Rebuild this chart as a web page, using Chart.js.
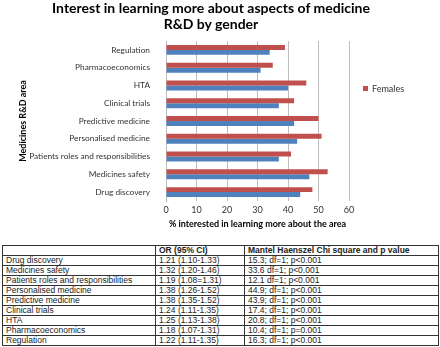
<!DOCTYPE html>
<html>
<head>
<meta charset="utf-8">
<script src="https://cdn.jsdelivr.net/npm/chart.js@4"></script>
<style>
  html, body { margin: 0; padding: 0; background: #fff; }
  #wrap { position: relative; width: 440px; height: 347px; overflow: hidden; }
  #chart-box { position: absolute; left: 0; top: 0; width: 440px; height: 232px; }
  .title { position: absolute; left: 0; top: 0; width: 422px; text-align: center; font: bold 14px Lato, sans-serif; line-height: 16px; color: #000; }
  .legend { position: absolute; left: 363px; top: 83px; font: 9px Lato, sans-serif; color: #333; display: flex; align-items: center; }
  .legend i { display: inline-block; width: 5px; height: 5px; background: #c0504d; margin-right: 4px; }
  table { position: absolute; left: 2px; top: 245px; border-collapse: collapse; font: 8.5px "Liberation Sans", Arial, sans-serif; color: #222; }
  td, th { border: 1px solid #333; padding: 0 3px; height: 9px; line-height: 9px; text-align: left; white-space: nowrap; }
  th { font-weight: bold; }
</style>
</head>
<body>
<div id="wrap">
  <div id="chart-box"><canvas id="chart"></canvas></div>
  <div class="title">Interest in learning more about aspects of medicine<br>R&amp;D by gender</div>
  <div class="legend"><i></i>Females</div>
  <table id="tbl"></table>
</div>
<script>
// chart data (top to bottom as drawn)
const categories = ['Regulation', 'Pharmacoeconomics', 'HTA', 'Clinical trials', 'Predictive medicine',
  'Personalised medicine', 'Patients roles and responsibilities', 'Medicines safety', 'Drug discovery'];
const females = [39, 35, 46, 42, 50, 51, 41, 53, 48];
const males = [34, 31, 40, 37, 42, 43, 37, 47, 44];
const xTicks = [0, 10, 20, 30, 40, 50, 60];

// table data
const tableHeader = ['', 'OR (95% CI)', 'Mantel Haenszel Chi square and p value'];
const tableAreas = ['Drug discovery', 'Medicines safety', 'Patients roles and responsibilities', 'Personalised medicine',
  'Predictive medicine', 'Clinical trials', 'HTA', 'Pharmacoeconomics', 'Regulation'];
const orValues = ['1.21 (1.10-1.33)', '1.32 (1.20-1.46)', '1.19 (1.08=1.31)', '1.38 (1.26-1.52)', '1.38 (1.35-1.52)',
  '1.24 (1.11-1.35)', '1.25 (1.13-1.38)', '1.18 (1.07-1.31)', '1.22 (1.11-1.35)'];
const mhValues = ['15.3; df=1; p<0.001', '33.6 df=1; p<0.001', '12.1 df=1; p<0.001', '44.9; df=1; p<0.001',
  '43.9; df=1; p<0.001', '17.4; df=1; p<0.001', '20.8; df=1; p<0.001', '10.4; df=1; p=0.001', '16.3; df=1; p<0.001'];

const tbl = document.getElementById('tbl');
const colW = ['146px', '82px', '187px'];
let html = '<tr>' + tableHeader.map((h, i) => `<th style="width:${colW[i]}">${h}</th>`).join('') + '</tr>';
tableAreas.forEach((a, i) => {
  html += `<tr><td>${a}</td><td>${orValues[i]}</td><td>${mhValues[i]}</td></tr>`;
});
tbl.innerHTML = html;

const red = '#c0504d';
const blue = '#4f81bd';
const gridColor = '#bdbdbd';
const txt = '#333';

new Chart(document.getElementById('chart'), {
  type: 'bar',
  data: {
    labels: categories,
    datasets: [
      { label: 'Females', data: females, backgroundColor: red },
      { label: 'Males', data: males, backgroundColor: blue }
    ]
  },
  options: {
    indexAxis: 'y',
    responsive: true,
    maintainAspectRatio: false,
    animation: false,
    datasets: { bar: { categoryPercentage: 0.56, barPercentage: 1 } },
    layout: { padding: { left: 18, right: 91, top: 41, bottom: 3 } },
    plugins: {
      legend: { display: false },
      tooltip: { enabled: false },
      title: { display: false }
    },
    scales: {
      x: {
        min: 0, max: 60,
        afterBuildTicks: s => { s.ticks = xTicks.map(v => ({ value: v })); },
        grid: { color: gridColor, drawTicks: false },
        border: { display: false },
        ticks: { color: txt, padding: 5, font: { family: 'Lato', size: 9, lineHeight: 1 } },
        title: {
          display: true,
          text: '% interested in learning more about the area',
          color: '#000',
          padding: { top: 0, bottom: 0 },
          font: { family: 'Lato', size: 9, weight: 'bold', lineHeight: 1 }
        }
      },
      y: {
        afterFit: s => { s.width = 148; },
        grid: { display: false },
        border: { display: true, color: gridColor },
        ticks: { color: txt, padding: 8, font: { family: 'Lato', size: 8.3 } },
        title: {
          display: true,
          text: 'Medicines R&D area',
          color: '#000',
          padding: { top: 0, bottom: 0 },
          font: { family: 'Lato', size: 9, weight: 'bold', lineHeight: 1.1 }
        }
      }
    }
  }
});
</script>
</body>
</html>
